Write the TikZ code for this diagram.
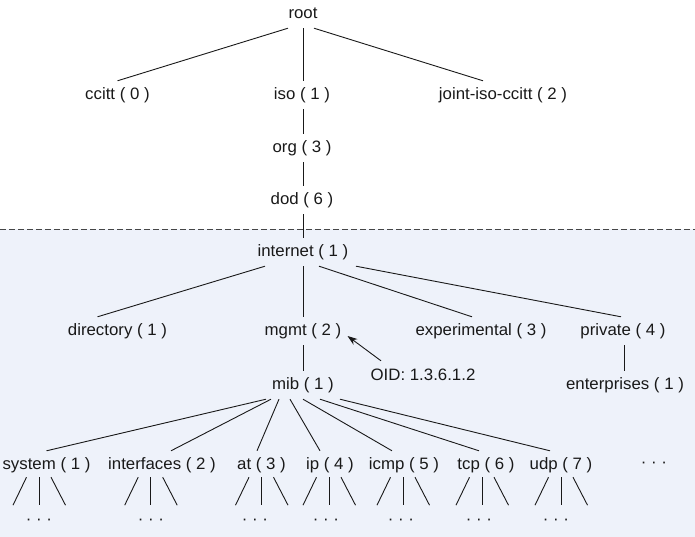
\documentclass[tikz,border=0pt]{standalone}
\usepackage{fontspec}
\setmainfont{Liberation Sans}[FakeStretch=1.02]
\usetikzlibrary{arrows.meta}
\definecolor{bgblue}{RGB}{238,242,250}
\definecolor{ink}{RGB}{25,25,25}
\definecolor{dashgray}{RGB}{70,70,70}
\begin{document}
\begin{tikzpicture}[x=1pt,y=-1pt,
  lbl/.style={inner xsep=0pt, inner ysep=6.25pt, text height=12pt, text depth=3.5pt,
              font=\fontsize{16.5}{19}\selectfont, text=ink},
  link/.style={draw=ink, line width=0.9pt},
  sep/.style={draw=dashgray, line width=1pt, dash pattern=on 6pt off 3pt}]
\useasboundingbox (0,0) rectangle (695,537);
\fill[bgblue] (0,229) rectangle (695,537);
\draw[sep] (0,229) -- (695,229);

% nodes
\node[lbl] (root) at (303,14) {root};
\node[lbl] (ccitt) at (117.5,95) {ccitt ( 0 )};
\node[lbl] (iso) at (302,95) {iso ( 1 )};
\node[lbl] (joint) at (503,95) {joint-iso-ccitt ( 2 )};
\node[lbl] (org) at (302,148) {org ( 3 )};
\node[lbl] (dod) at (302,200) {dod ( 6 )};
\node[lbl] (internet) at (303,252) {internet ( 1 )};
\node[lbl] (directory) at (117.5,331) {directory ( 1 )};
\node[lbl] (mgmt) at (303,331) {mgmt ( 2 )};
\node[lbl] (experimental) at (481,331) {experimental ( 3 )};
\node[lbl] (private) at (623,331) {private ( 4 )};
\node[lbl] (oid) at (423,376) {OID: 1.3.6.1.2};
\node[lbl] (mib) at (303,385) {mib ( 1 )};
\node[lbl] (enterprises) at (625,385) {enterprises ( 1 )};
\node[lbl] (system) at (46.5,465) {system ( 1 )};
\node[lbl] (interfaces) at (162,465) {interfaces ( 2 )};
\node[lbl] (at) at (261.5,465) {at ( 3 )};
\node[lbl] (ip) at (330,465) {ip ( 4 )};
\node[lbl] (icmp) at (404,465) {icmp ( 5 )};
\node[lbl] (tcp) at (486,465) {tcp ( 6 )};
\node[lbl] (udp) at (561,465) {udp ( 7 )};
\node[lbl] (more) at (654,463) {· · ·};

% upper tree
\draw[link] ([shift={(-15,0)}]root.south) -- (ccitt.north);
\draw[link] ([shift={(0,0)}]root.south) -- ([shift={(1,0)}]iso.north);
\draw[link] ([shift={(11,0)}]root.south) -- ([shift={(-20,0)}]joint.north);
\draw[link] ([shift={(1,0)}]iso.south) -- ([shift={(1,0)}]org.north);
\draw[link] ([shift={(1,0)}]org.south) -- ([shift={(1,0)}]dod.north);
\draw[link] ([shift={(1,0)}]dod.south) -- (internet.north);

% internet subtree
\draw[link] ([shift={(-38,0)}]internet.south) -- ([shift={(-20,0)}]directory.north);
\draw[link] (internet.south) -- (mgmt.north);
\draw[link] ([shift={(16,0)}]internet.south) -- ([shift={(-9,0)}]experimental.north);
\draw[link] ([shift={(53,0)}]internet.south) -- ([shift={(-2,0)}]private.north);
\draw[link] (mgmt.south) -- (mib.north);
\draw[link] ([shift={(1,0)}]private.south) -- ([shift={(-1,0)}]enterprises.north);
\draw[link, -{Stealth[length=10pt,width=7pt]}] ([shift={(-42,-1)}]oid.north) -- ([shift={(6,5)}]mgmt.east);

% mib subtree
\draw[link] ([shift={(-37,0)}]mib.south) -- (system.north);
\draw[link] ([shift={(-32,0)}]mib.south) -- ([shift={(9,0)}]interfaces.north);
\draw[link] ([shift={(-24,0)}]mib.south) -- ([shift={(-4.5,0)}]at.north);
\draw[link] ([shift={(-13,0)}]mib.south) -- ([shift={(-10,0)}]ip.north);
\draw[link] ([shift={(0,0)}]mib.south) -- ([shift={(-12,0)}]icmp.north);
\draw[link] ([shift={(17,0)}]mib.south) -- ([shift={(-7,0)}]tcp.north);
\draw[link] ([shift={(37,0)}]mib.south) -- ([shift={(-11,0)}]udp.north);

% fan-outs below each group
\foreach \n/\b/\d in {system/-7.5/-7.5, interfaces/-11.3/-11, at/0/-6.5, ip/-1/-4,
                      icmp/-1/-3, tcp/-4/-7, udp/0/-5} {
  \node[lbl] (dots-\n) at ([shift={(\d,41)}]\n.south) {· · ·};
  \draw[link] ([shift={(\b-12.5,-2)}]\n.south) -- ([shift={(\b-26,26)}]\n.south);
  \draw[link] ([shift={(\b,-2)}]\n.south) -- ([shift={(\b,26)}]\n.south);
  \draw[link] ([shift={(\b+12,-2)}]\n.south) -- ([shift={(\b+26.5,26)}]\n.south);
}
\end{tikzpicture}
\end{document}
